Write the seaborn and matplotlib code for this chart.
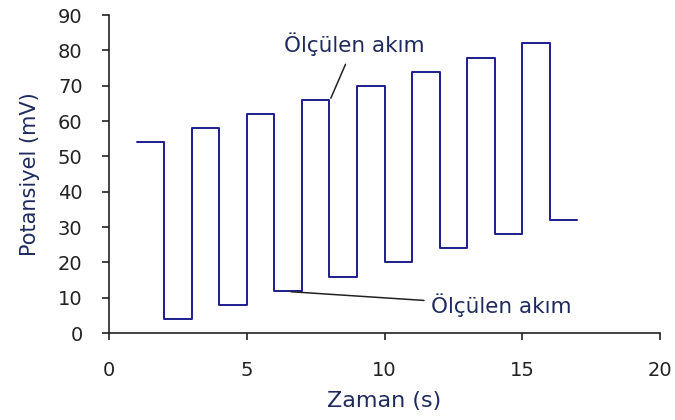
import matplotlib
matplotlib.use("Agg")
import matplotlib.pyplot as plt
import seaborn as sns
import pandas as pd

# Data
times = [1, 2, 3, 4, 5, 6, 7, 8, 9, 10, 11, 12, 13, 14, 15, 16, 17]
potentials = [54, 4, 58, 8, 62, 12, 66, 16, 70, 20, 74, 24, 78, 28, 82, 32, 32]
x_ticks = [0, 5, 10, 15, 20]
y_ticks = [0, 10, 20, 30, 40, 50, 60, 70, 80, 90]
label_text = "Ölçülen akım"

sns.set_theme(style="ticks")
plt.rcParams['font.family'] = ['DejaVu Sans']

df = pd.DataFrame({"Zaman": times, "Potansiyel": potentials})

fig = plt.figure(figsize=(6.75, 4.2), dpi=100)
ax = fig.add_axes([0.1615, 0.207, 0.8165, 0.757])

sns.lineplot(data=df, x="Zaman", y="Potansiyel", drawstyle="steps-post",
             estimator=None, color="#1c1c8e", linewidth=1.4, ax=ax)

ax.set_xlim(0, 20)
ax.set_ylim(0, 90)
ax.set_xticks(x_ticks)
ax.set_yticks(y_ticks)
ax.tick_params(axis="both", labelsize=14, colors="#222222", length=5, width=1.2)
ax.tick_params(axis="x", pad=15)
ax.tick_params(axis="y", pad=14)
sns.despine(ax=ax)
for s in ["left", "bottom"]:
    ax.spines[s].set_linewidth(1.2)
    ax.spines[s].set_color("#222222")

ax.set_xlabel("Zaman (s)", fontsize=16, color="#1e2a5e", labelpad=8)
ax.set_ylabel("Potansiyel (mV)", fontsize=15, color="#1e2a5e", labelpad=13)

ax.annotate(label_text, xy=(8.05, 66.5), xytext=(8.9, 81.8),
            fontsize=15.5, color="#1e2a5e", ha="center", va="center",
            arrowprops=dict(arrowstyle="-", color="#222222", lw=1.1,
                            shrinkA=4, shrinkB=0))
ax.annotate(label_text, xy=(6.6, 11.7), xytext=(11.7, 7.8),
            fontsize=15.5, color="#1e2a5e", ha="left", va="center",
            arrowprops=dict(arrowstyle="-", color="#222222", lw=1.1,
                            shrinkA=3, shrinkB=0))

fig.savefig("out.png", dpi=100)
